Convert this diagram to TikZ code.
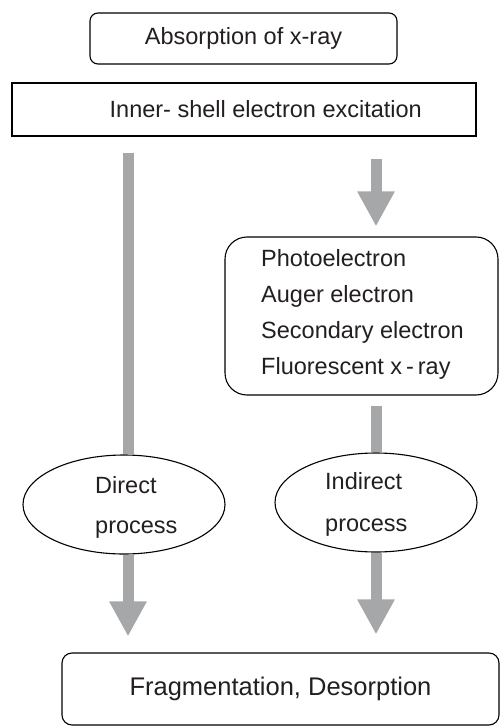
\documentclass[tikz,border=0pt]{standalone}
\usepackage{fontspec}
\setmainfont{Liberation Sans}
\usetikzlibrary{arrows.meta,shapes.geometric,calc}
\definecolor{arrowgray}{HTML}{A6A7A9}
\definecolor{txt}{HTML}{231F20}
\begin{document}
\begin{tikzpicture}[x=1pt,y=-1pt,
  every node/.style={text=txt,font=\fontsize{23.5}{36}\selectfont},
  boxr/.style={draw=black,line width=1.1pt,fill=white,inner sep=0pt},
  oval/.style={draw=black,line width=1.1pt,fill=white,ellipse,inner sep=0pt,minimum width=202pt,minimum height=99pt},
  shaft/.style={draw=arrowgray,line width=11pt,-{Triangle[width=35pt,length=35pt]}},
  plainshaft/.style={draw=arrowgray,line width=11pt}]
\useasboundingbox (0,0) rectangle (500,727);
\coordinate (L) at (128,0);
\coordinate (R) at (376,0);
% boxes
\node[boxr,rounded corners=8pt,minimum width=307pt,minimum height=51pt] (abs) at (243.5,38.5) {Absorption of x-ray};
\node[boxr,minimum width=464pt,minimum height=53pt] (inner) at (244,109.5) {};
\node[anchor=west,inner sep=0pt] (innert) at ($(inner.west)+(98,0)$) {Inner- shell electron excitation};
\node[boxr,rounded corners=22pt,minimum width=273pt,minimum height=158pt] (prod) at (361.5,316) {};
\node[anchor=west,align=left,inner sep=0pt] (prodt) at (261,314) {Photoelectron\\Auger electron\\Secondary electron\\Fluorescent x\,-\,ray};
\node[oval] (dir) at (124,504.5) {};
\node[anchor=west,align=left,inner sep=0pt,font=\fontsize{23.5}{40}\selectfont] (dirt) at (95,507) {Direct\\process};
\node[oval] (ind) at (376,502.5) {};
\node[anchor=west,align=left,inner sep=0pt,font=\fontsize{23.5}{42}\selectfont] (indt) at (325,504) {Indirect\\process};
\node[boxr,rounded corners=10pt,minimum width=437pt,minimum height=72pt,font=\fontsize{25.5}{30}\selectfont] (frag) at (280.5,689) {Fragmentation, Desorption};
% arrows
\draw[plainshaft,shorten <=16pt] (inner.south -| L) -- (dir.north -| L);
\draw[shaft,shorten >=16pt] (dir.south -| L) -- (frag.north -| L);
\draw[shaft,shorten <=22pt,shorten >=10pt] (inner.south -| R) -- (prod.north -| R);
\draw[plainshaft,shorten <=10pt] (prod.south -| R) -- (ind.north -| R);
\draw[shaft,shorten >=18pt] (ind.south -| R) -- (frag.north -| R);
\end{tikzpicture}
\end{document}
